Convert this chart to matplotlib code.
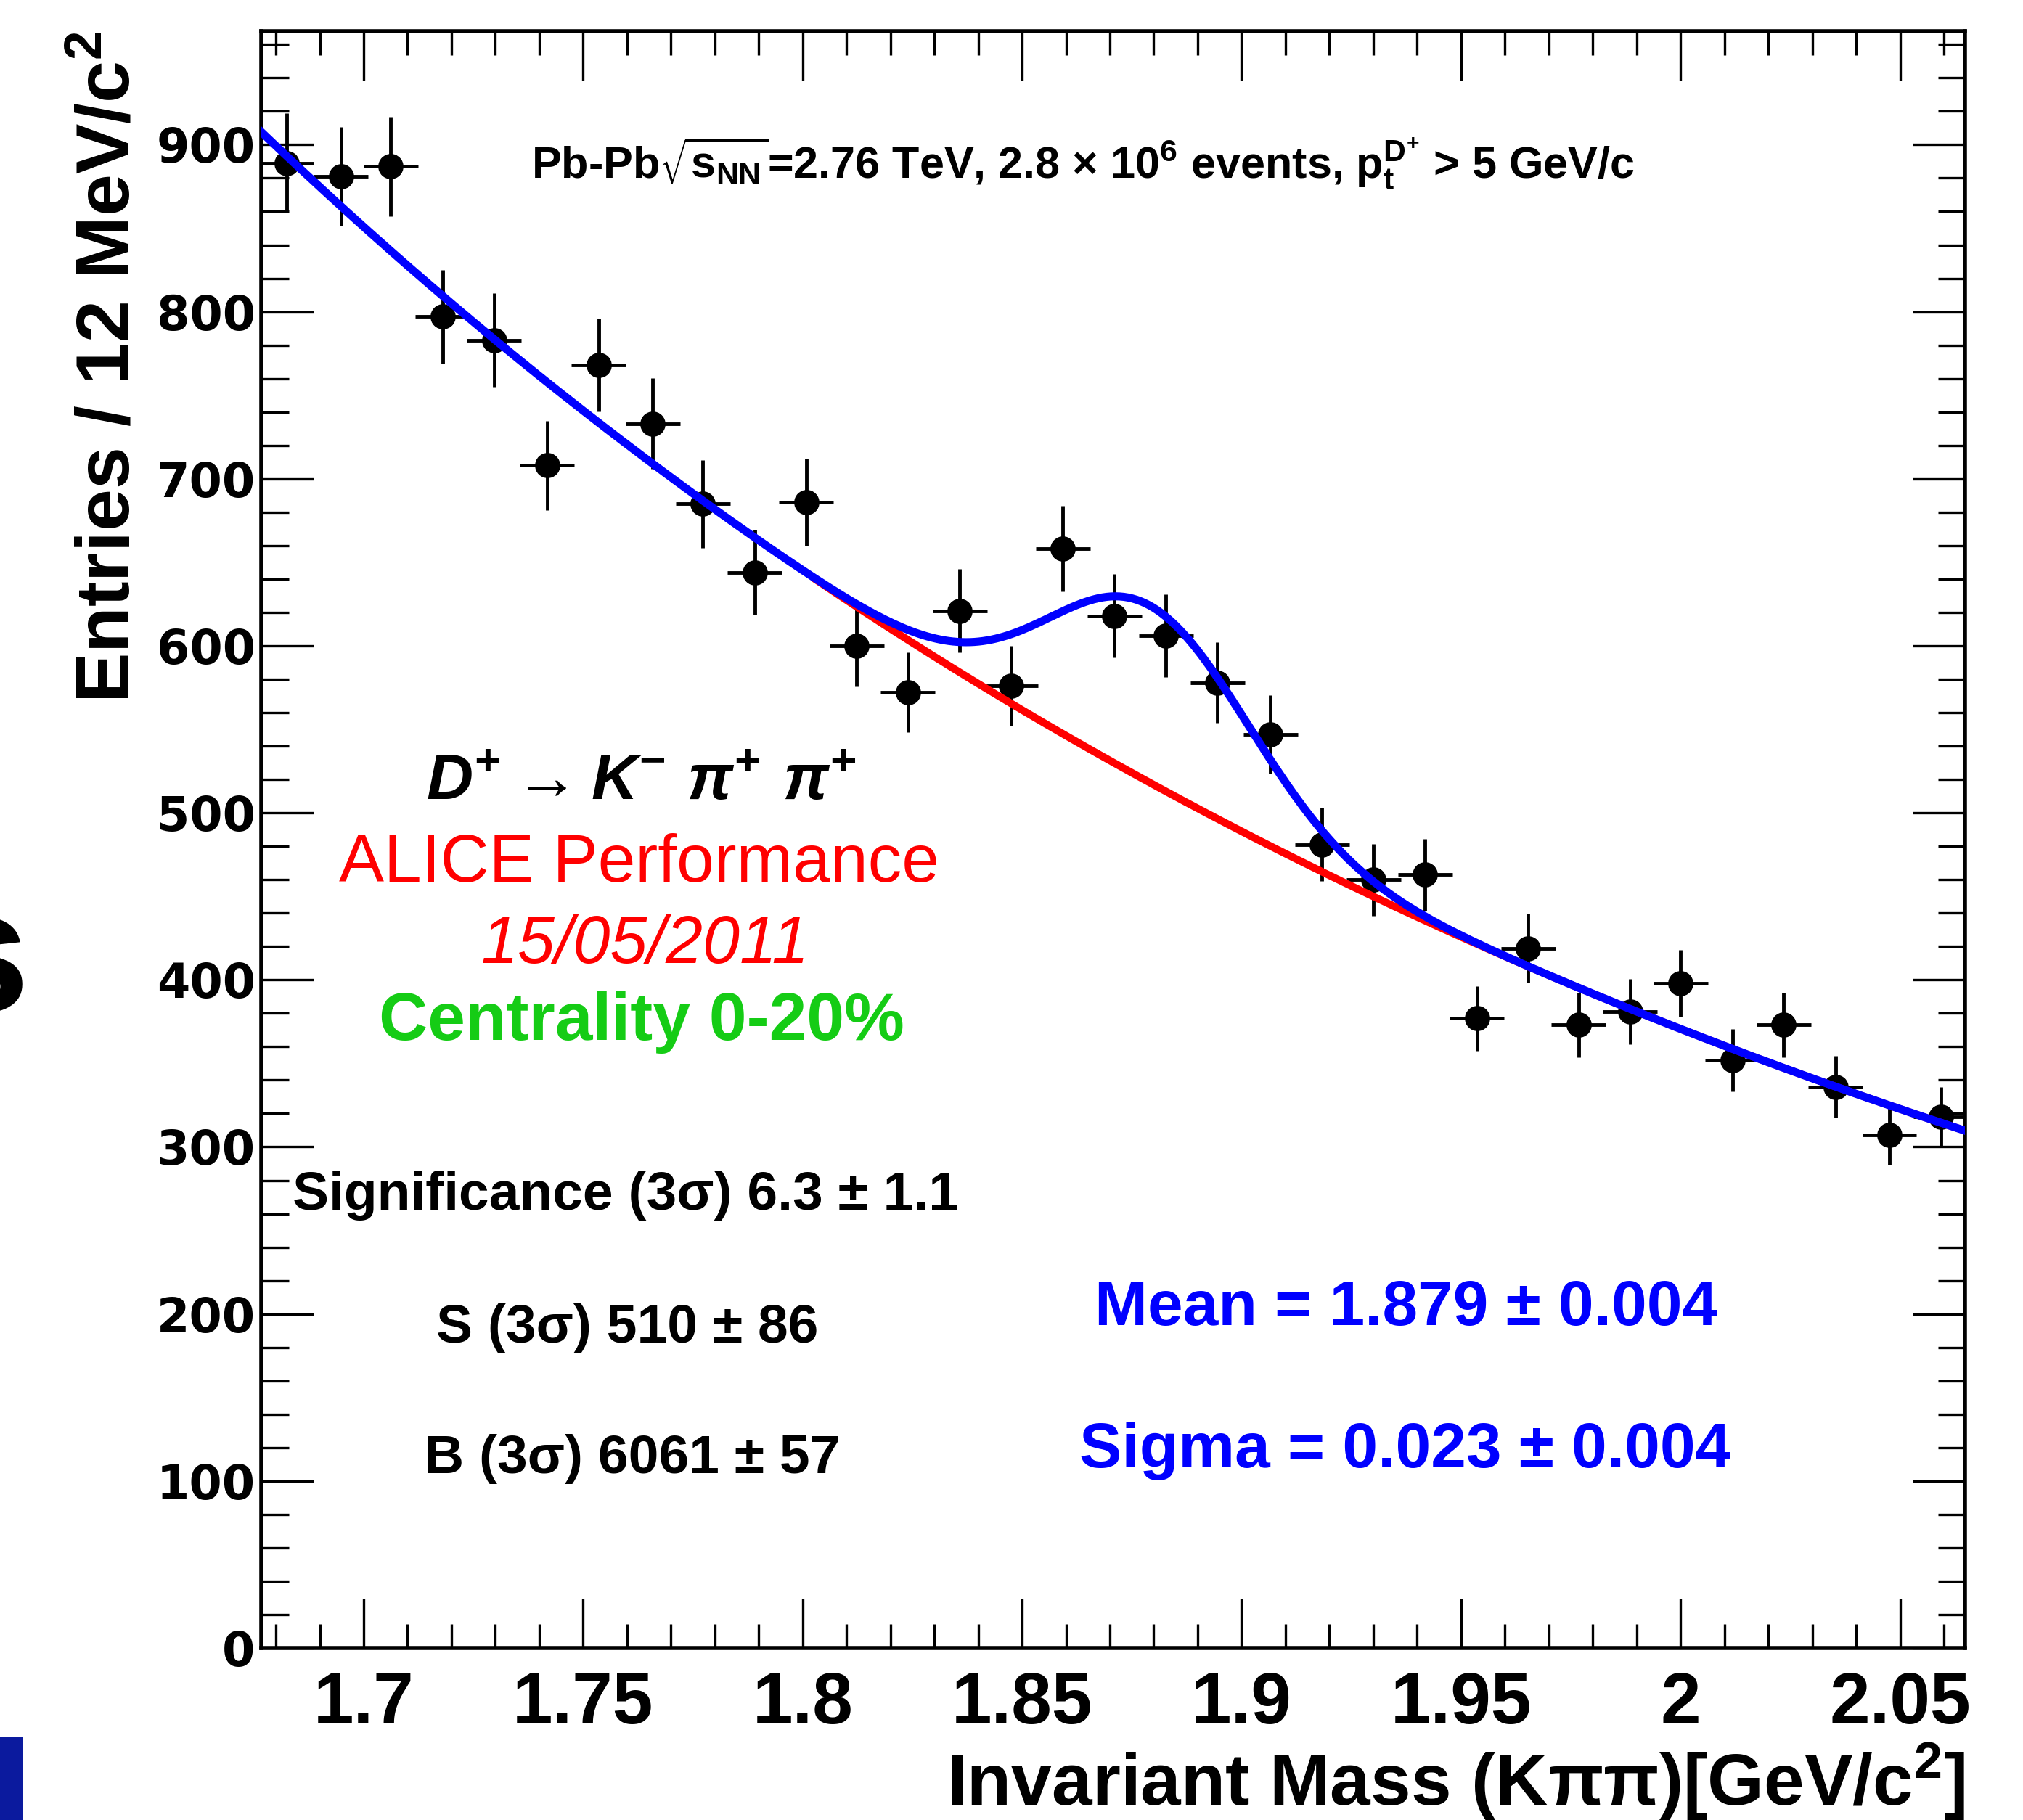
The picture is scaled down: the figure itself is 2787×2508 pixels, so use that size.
import numpy as np
import matplotlib.pyplot as plt
from matplotlib.ticker import MultipleLocator, FuncFormatter
from matplotlib.patches import Rectangle

plt.rcParams['font.family'] = ['Liberation Sans', 'DejaVu Sans']
plt.rcParams['mathtext.default'] = 'regular'

# D+ -> K- pi+ pi+ invariant mass histogram (bin centres, counts)
mass = [1.6824, 1.6948, 1.7062, 1.7180, 1.7297, 1.7418, 1.7535, 1.7659, 1.7773,
        1.7891, 1.8008, 1.8123, 1.8240, 1.8358, 1.8475, 1.8593, 1.8710, 1.8828,
        1.8945, 1.9066, 1.9183, 1.9301, 1.9418, 1.9536, 1.9653, 1.9768, 1.9885,
        2.0000, 2.0118, 2.0235, 2.0353, 2.0476, 2.0593]
entries = [889, 881, 887, 797, 783, 708, 768, 733, 685,
           644, 686, 600, 572, 621, 576, 658, 618, 606,
           578, 547, 481, 460, 463, 377, 419, 373, 381,
           398, 352, 373, 336, 307, 318]
half_bin = 0.0062

# fit results: exponential background + gaussian signal
bkg_ref_x = 1.80
bkg_norm = 645.0
bkg_slope = 2.77
sig_amp = 106.0
sig_mean = 1.879
sig_sigma = 0.023

x_lo, x_hi = 1.6767, 2.0648
y_lo, y_hi = 0, 968

entries = np.array(entries, dtype=float)
yerr = np.sqrt(entries)

fig = plt.figure(figsize=(27.87, 25.08), dpi=100)
ax = fig.add_axes([0.1292, 0.0945, 0.8421, 0.8884])

ax.errorbar(mass, entries, xerr=half_bin, yerr=yerr, fmt='o', color='black',
            markersize=24, elinewidth=3.5, capsize=0, zorder=2)


def background(x):
    return bkg_norm * np.exp(-bkg_slope * (x - bkg_ref_x))


def total(x):
    return background(x) + sig_amp * np.exp(-0.5 * ((x - sig_mean) / sig_sigma) ** 2)


xb = np.linspace(1.803, x_hi, 300)
ax.plot(xb, background(xb), color='#ff0000', linewidth=7.5, zorder=3)
xt = np.linspace(x_lo, x_hi, 400)
ax.plot(xt, total(xt), color='#0000ff', linewidth=8, zorder=4)

ax.set_xlim(x_lo, x_hi)
ax.set_ylim(y_lo, y_hi)

ax.xaxis.set_major_locator(MultipleLocator(0.05))
ax.xaxis.set_minor_locator(MultipleLocator(0.01))
ax.yaxis.set_major_locator(MultipleLocator(100))
ax.yaxis.set_minor_locator(MultipleLocator(20))
ax.xaxis.set_major_formatter(FuncFormatter(lambda v, p: '%g' % v))

ax.tick_params(which='both', direction='in', top=True, right=True, width=2.4)
ax.tick_params(which='major', axis='y', length=52)
ax.tick_params(which='minor', axis='y', length=27)
ax.tick_params(which='major', axis='x', length=49)
ax.tick_params(which='minor', axis='x', length=24)
ax.tick_params(axis='x', labelsize=72, pad=22)
ax.tick_params(axis='y', labelsize=47, pad=6)
for lab in ax.get_xticklabels():
    lab.set_fontweight('bold')
for lab in ax.get_yticklabels():
    lab.set_fontweight('bold')
    lab.set_family('DejaVu Sans')
for sp in ax.spines.values():
    sp.set_linewidth(4)

ax.set_xlabel(r'Invariant Mass (K$\pi\pi$)[GeV/c$^{2}$]', fontsize=72,
              fontweight='bold', loc='right')
ax.xaxis.set_label_coords(1.0, -0.058)
ax.set_ylabel(r'Entries / 12 MeV/c$^{2}$', fontsize=75, fontweight='bold', loc='top')
ax.yaxis.set_label_coords(-0.068, 1.0)

ax.text(0.482, 0.918,
        r'Pb-Pb$\sqrt{s_{NN}}$=2.76 TeV, 2.8 $\times$ 10$^{6}$ events, p$_{t}^{D^{+}}$ > 5 GeV/c',
        transform=ax.transAxes, ha='center', va='center', fontsize=44, fontweight='bold')

ax.text(0.223, 0.535, r'$D^{+}\rightarrow K^{-}\ \pi^{+}\ \pi^{+}$', transform=ax.transAxes,
        ha='center', va='center', fontsize=64, fontweight='bold', style='italic')
ax.text(0.2216, 0.4847, 'ALICE Performance', transform=ax.transAxes,
        ha='center', va='center', fontsize=67, color='#ff0000')
ax.text(0.2253, 0.4345, '15/05/2011', transform=ax.transAxes,
        ha='center', va='center', fontsize=66, color='#ff0000', style='italic')
ax.text(0.2230, 0.3867, 'Centrality 0-20%', transform=ax.transAxes,
        ha='center', va='center', fontsize=67, color='#15cc15', fontweight='bold')

ax.text(0.2140, 0.2798, 'Significance (3σ) 6.3 ± 1.1', transform=ax.transAxes,
        ha='center', va='center', fontsize=54, fontweight='bold')
ax.text(0.2147, 0.1976, 'S (3σ) 510 ± 86', transform=ax.transAxes,
        ha='center', va='center', fontsize=54, fontweight='bold')
ax.text(0.2177, 0.1171, 'B (3σ) 6061 ± 57', transform=ax.transAxes,
        ha='center', va='center', fontsize=54, fontweight='bold')

ax.text(0.672, 0.2096, 'Mean = 1.879 ± 0.004', transform=ax.transAxes,
        ha='center', va='center', fontsize=63, fontweight='bold', color='#0000ff')
ax.text(0.6713, 0.1218, 'Sigma = 0.023 ± 0.004', transform=ax.transAxes,
        ha='center', va='center', fontsize=63, fontweight='bold', color='#0000ff')

# bits of the surrounding slide that were cut into the picture
fig.text(0.0143, 0.4442, 's', ha='right', va='baseline', fontsize=173, fontweight='bold')
fig.add_artist(Rectangle((0, 0), 0.0111, 0.0455, transform=fig.transFigure,
                         facecolor='#0b1a9e', edgecolor='none'))

fig.savefig('out.png', dpi=100)
